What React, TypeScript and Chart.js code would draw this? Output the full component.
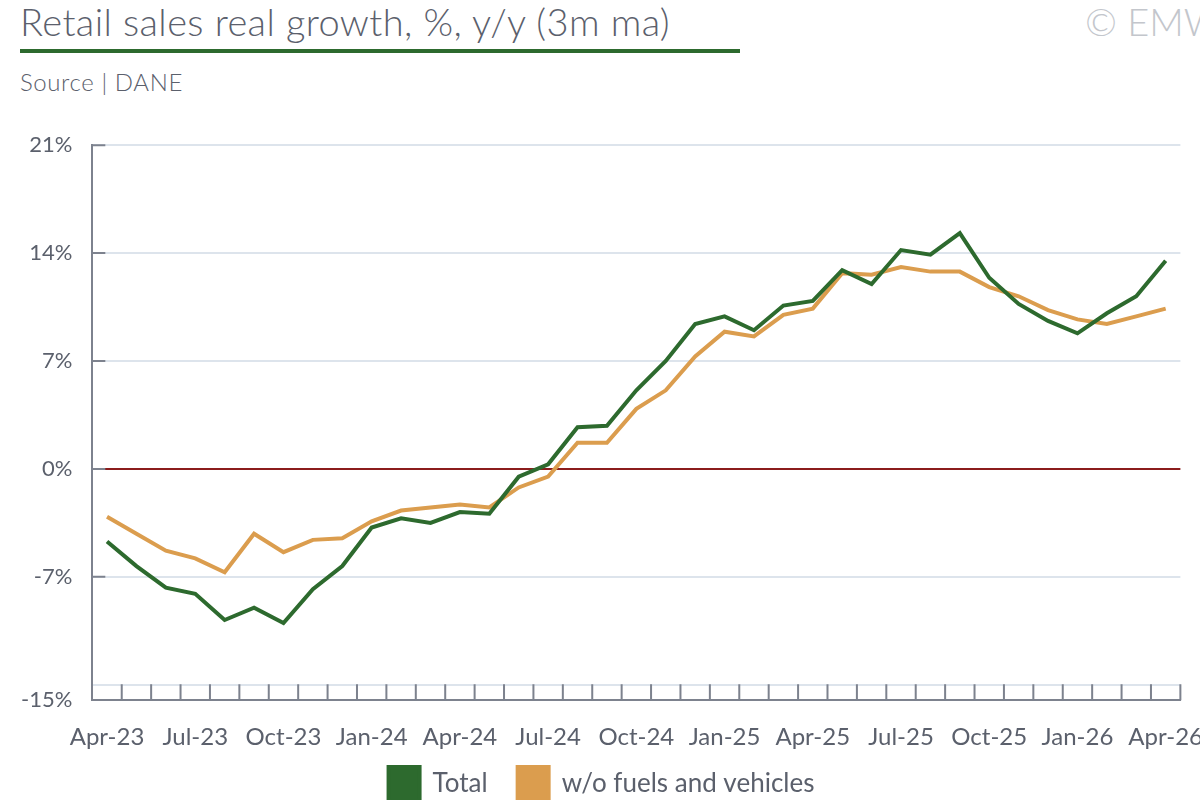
import { useEffect, useRef } from 'react';
import { Chart, registerables } from 'chart.js';

Chart.register(...registerables);

const months = [
  'Apr-23', 'May-23', 'Jun-23', 'Jul-23', 'Aug-23', 'Sep-23', 'Oct-23', 'Nov-23', 'Dec-23',
  'Jan-24', 'Feb-24', 'Mar-24', 'Apr-24', 'May-24', 'Jun-24', 'Jul-24', 'Aug-24', 'Sep-24',
  'Oct-24', 'Nov-24', 'Dec-24', 'Jan-25', 'Feb-25', 'Mar-25', 'Apr-25', 'May-25', 'Jun-25',
  'Jul-25', 'Aug-25', 'Sep-25', 'Oct-25', 'Nov-25', 'Dec-25', 'Jan-26', 'Feb-26', 'Mar-26',
  'Apr-26',
];

const total = [
  -4.7, -6.3, -7.7, -8.1, -9.8, -9.0, -10.0, -7.8, -6.3,
  -3.8, -3.2, -3.5, -2.8, -2.9, -0.5, 0.3, 2.7, 2.8,
  5.1, 7.0, 9.4, 9.9, 9.0, 10.6, 10.9, 12.9, 12.0,
  14.2, 13.9, 15.3, 12.4, 10.7, 9.6, 8.8, 10.1, 11.2,
  13.5,
];

const exFuelsVehicles = [
  -3.1, -4.2, -5.3, -5.8, -6.7, -4.2, -5.4, -4.6, -4.5,
  -3.4, -2.7, -2.5, -2.3, -2.5, -1.2, -0.5, 1.7, 1.7,
  3.9, 5.1, 7.3, 8.9, 8.6, 10.0, 10.4, 12.7, 12.6,
  13.1, 12.8, 12.8, 11.8, 11.2, 10.3, 9.7, 9.4, 9.9,
  10.4,
];

const yTicks = [-15, -14, -7, 0, 7, 14, 21];

const FONT = 'Lato, "Open Sans", sans-serif';
const TEXT = '#5b606c';
const AXIS = '#7d828e';
const GRID = '#dde4ec';
const GREEN = '#2d6a2e';
const ORANGE = '#db9d4e';
const ZERO = '#8b1c1c';

// inner tick marks: x ticks point up from the axis, y ticks point right
const innerTicks = {
  id: 'innerTicks',
  afterDatasetsDraw(chart: Chart) {
    const { ctx, chartArea } = chart;
    const x = chart.scales.x;
    const y = chart.scales.y;
    ctx.save();
    ctx.strokeStyle = AXIS;
    ctx.lineWidth = 2;
    const n = months.length;
    const step = (x.right - x.left) / n;
    ctx.beginPath();
    for (let i = 1; i <= n; i++) {
      const px = x.left + i * step;
      ctx.moveTo(px, chartArea.bottom);
      ctx.lineTo(px, chartArea.bottom - 16);
    }
    for (const v of yTicks) {
      if (v < -7) continue;
      const py = y.getPixelForValue(v);
      ctx.moveTo(chartArea.left, py);
      ctx.lineTo(chartArea.left + 13, py);
    }
    ctx.stroke();
    ctx.restore();
  },
};

// pull the legend a little closer to the tick labels, and centre it on the page
const legendNudge = {
  id: 'legendNudge',
  afterLayout(chart: Chart) {
    const lg = chart.legend;
    if (!lg) return;
    lg.top -= 13;
    lg.bottom -= 13;
    lg.left -= 8;
    lg.right -= 8;
  },
};

function RetailChart() {
  const canvasRef = useRef<HTMLCanvasElement>(null);
  const chartRef = useRef<Chart | null>(null);

  useEffect(() => {
    if (!canvasRef.current) return;

    chartRef.current = new Chart(canvasRef.current, {
      type: 'line',
      data: {
        labels: months,
        datasets: [
          {
            label: 'Total',
            data: total,
            borderColor: GREEN,
            backgroundColor: GREEN,
            borderWidth: 4,
            pointRadius: 0,
            tension: 0,
          },
          {
            label: 'w/o fuels and vehicles',
            data: exFuelsVehicles,
            borderColor: ORANGE,
            backgroundColor: ORANGE,
            borderWidth: 4,
            pointRadius: 0,
            tension: 0,
          },
        ],
      },
      options: {
        responsive: true,
        maintainAspectRatio: false,
        animation: false,
        layout: { padding: { top: 10, left: 0, right: 0, bottom: 0 } },
        plugins: {
          title: { display: false },
          tooltip: { enabled: false },
          legend: {
            position: 'bottom',
            labels: {
              color: TEXT,
              boxWidth: 31,
              boxHeight: 34,
              padding: 30,
              font: { family: FONT, size: 26 },
            },
          },
        },
        scales: {
          x: {
            offset: true,
            grid: { display: false, offset: true },
            border: { display: true, color: AXIS, width: 2 },
            afterFit: (scale) => {
              scale.height -= 17;
            },
            ticks: {
              autoSkip: false,
              maxRotation: 0,
              padding: 15,
              color: TEXT,
              font: { family: FONT, size: 24 },
              callback: (_v, i) => (i % 3 === 0 ? months[i] : ''),
            },
          },
          y: {
            min: -15,
            max: 21,
            afterBuildTicks: (axis) => {
              axis.ticks = yTicks.map((value) => ({ value }));
            },
            grid: {
              drawTicks: false,
              color: (c) => (c.tick && c.tick.value === 0 ? ZERO : GRID),
              lineWidth: 2,
            },
            border: { display: true, color: AXIS, width: 2 },
            ticks: {
              padding: 20,
              color: TEXT,
              font: { family: FONT, size: 22 },
              callback: (v) => (v === -14 ? '' : `${v}%`),
            },
          },
        },
      },
      plugins: [innerTicks, legendNudge],
    });

    return () => {
      chartRef.current?.destroy();
      chartRef.current = null;
    };
  }, []);

  return (
    <div style={{ position: 'absolute', left: 1, top: 112, width: 1217, height: 712 }}>
      <canvas ref={canvasRef} />
    </div>
  );
}

export default function App() {
  return (
    <div
      style={{
        position: 'fixed',
        left: 0,
        top: 0,
        width: 1200,
        height: 800,
        overflow: 'hidden',
        background: '#fff',
        fontFamily: FONT,
      }}
    >
      <div
        style={{
          position: 'absolute',
          left: 20,
          top: -2,
          fontSize: 38,
          fontWeight: 300,
          letterSpacing: 0.4,
          color: TEXT,
          lineHeight: '46px',
          whiteSpace: 'nowrap',
        }}
      >
        Retail sales real growth, %, y/y (3m ma)
      </div>
      <div style={{ position: 'absolute', left: 20, top: 49, width: 720, height: 4, background: GREEN }} />
      <div
        style={{
          position: 'absolute',
          left: 1085,
          top: -2,
          fontSize: 38,
          fontWeight: 300,
          color: '#c3c6cc',
          lineHeight: '46px',
          whiteSpace: 'nowrap',
        }}
      >
        © EMW
      </div>
      <div
        style={{
          position: 'absolute',
          left: 20,
          top: 67,
          fontSize: 24,
          fontWeight: 300,
          letterSpacing: 0.6,
          color: TEXT,
          lineHeight: '30px',
          whiteSpace: 'nowrap',
        }}
      >
        Source | DANE
      </div>
      <RetailChart />
    </div>
  );
}
